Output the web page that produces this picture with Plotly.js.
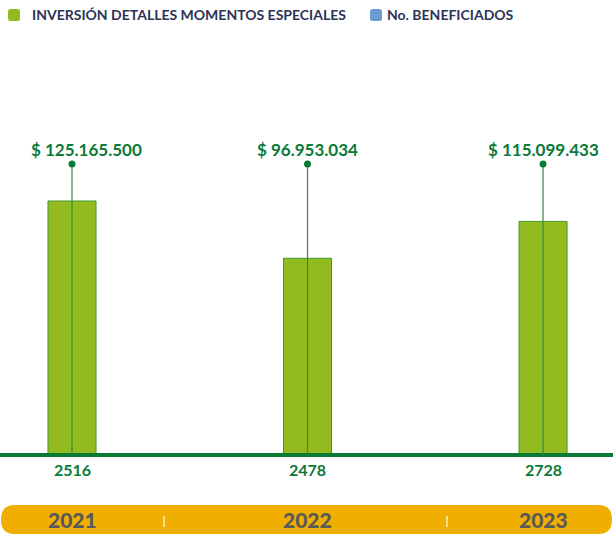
<!DOCTYPE html>
<html>
<head>
<meta charset="utf-8">
<script src="https://cdn.plot.ly/plotly-3.0.1.min.js"></script>
<style>html,body{margin:0;padding:0;background:#fff;}#chart{width:613px;height:534px;}</style>
</head>
<body>
<div id="chart"></div>
<script>
const years = ['2021', '2022', '2023'];
const inversion = [125165500, 96953034, 115099433];
const beneficiados = [2516, 2478, 2728];
const legendLabels = ['INVERSIÓN DETALLES MOMENTOS ESPECIALES', 'No. BENEFICIADOS'];

const GREEN_BAR = '#93bb1f';
const GREEN_DARK = '#0a7a38';
const BLUE = '#6a9bd2';
const YELLOW = '#f0ae00';
const FONT = 'Lato, "Open Sans", sans-serif';

function fmtMoney(v) {
  return '$ ' + Math.round(v).toString().replace(/\B(?=(\d{3})+(?!\d))/g, '.');
}

const DOT_Y = 0.7012, LABEL_Y = 0.7373, COUNT_Y = -0.0361;
const BAND_TOP = -0.1205, BAND_BOT = -0.1904, YEAR_Y = -0.1566;
const LABEL_SHIFT = [14, 0, 0];

const traces = [{
  type: 'bar', x: years, y: inversion, width: 0.204,
  marker: {color: GREEN_BAR, line: {color: '#3e9a2c', width: 1}},
  hoverinfo: 'skip', showlegend: false
}];

const shapes = [];
const annotations = [];

function roundRect(x0, x1, yTop, yBot, rx, ry) {
  return `M ${x0+rx},${yTop} L ${x1-rx},${yTop} Q ${x1},${yTop} ${x1},${yTop-ry} L ${x1},${yBot+ry} Q ${x1},${yBot} ${x1-rx},${yBot} L ${x0+rx},${yBot} Q ${x0},${yBot} ${x0},${yBot+ry} L ${x0},${yTop-ry} Q ${x0},${yTop} ${x0+rx},${yTop} Z`;
}

// band
shapes.push({
  type: 'path', xref: 'paper', yref: 'paper', layer: 'below',
  path: roundRect(1/613, 612/613, BAND_TOP, BAND_BOT, 14/613, 14/415),
  fillcolor: YELLOW, line: {width: 0}
});
[164/613, 447/613].forEach(px => shapes.push({
  type: 'line', xref: 'paper', yref: 'paper', x0: px, x1: px, y0: -0.147, y1: -0.1735,
  line: {color: '#fbe08a', width: 2}
}));

// baseline
shapes.push({type: 'line', xref: 'paper', yref: 'paper', x0: 0, x1: 1, y0: 0, y1: 0,
  line: {color: '#077a34', width: 4}});

years.forEach((yr, i) => {
  shapes.push({type: 'line', xref: 'x', yref: 'paper', x0: i, x1: i, y0: 0, y1: DOT_Y,
    line: {color: '#2f8c48', width: 1.2}});
  shapes.push({type: 'circle', xref: 'x', yref: 'paper', xsizemode: 'pixel', ysizemode: 'pixel',
    xanchor: i, yanchor: DOT_Y, x0: -3.5, x1: 3.5, y0: -3.5, y1: 3.5,
    fillcolor: GREEN_DARK, line: {width: 0}});
  annotations.push({xref: 'x', yref: 'paper', x: i, y: LABEL_Y, yanchor: 'middle', xshift: LABEL_SHIFT[i],
    text: fmtMoney(inversion[i]),
    showarrow: false, font: {family: FONT, size: 17, color: GREEN_DARK, weight: 700}});
  annotations.push({xref: 'x', yref: 'paper', x: i, y: COUNT_Y, yanchor: 'middle', text: String(beneficiados[i]),
    showarrow: false, font: {family: FONT, size: 16, color: GREEN_DARK, weight: 700}});
  annotations.push({xref: 'x', yref: 'paper', x: i, y: YEAR_Y, yanchor: 'middle', text: yr,
    showarrow: false, font: {family: FONT, size: 21, color: '#595959', weight: 900}});
});

// legend
const LEG_Y = (455 - 15) / 415;
shapes.push({type: 'path', xref: 'paper', yref: 'paper',
  path: roundRect(8/613, 20/613, (455-9)/415, (455-21)/415, 2.5/613, 2.5/415),
  fillcolor: GREEN_BAR, line: {width: 0}});
shapes.push({type: 'path', xref: 'paper', yref: 'paper',
  path: roundRect(370/613, 382/613, (455-9)/415, (455-21)/415, 2.5/613, 2.5/415),
  fillcolor: BLUE, line: {width: 0}});
annotations.push({xref: 'paper', yref: 'paper', x: 30/613, y: LEG_Y, xanchor: 'left', yanchor: 'middle', text: legendLabels[0],
  showarrow: false, font: {family: FONT, size: 14, color: '#2d3358', weight: 700}});
annotations.push({xref: 'paper', yref: 'paper', x: 385/613, y: LEG_Y, xanchor: 'left', yanchor: 'middle', text: legendLabels[1],
  showarrow: false, font: {family: FONT, size: 14, color: '#2d3358', weight: 700}});

const layout = {
  width: 613, height: 534,
  margin: {l: 0, r: 0, t: 40, b: 79},
  paper_bgcolor: '#fff', plot_bgcolor: '#fff',
  xaxis: {type: 'category', range: [-0.3057, 2.297], visible: false, fixedrange: true},
  yaxis: {range: [0, 204.5e6], visible: false, fixedrange: true},
  shapes: shapes, annotations: annotations, showlegend: false
};

Plotly.newPlot('chart', traces, layout, {displayModeBar: false, staticPlot: true});
</script>
</body>
</html>
